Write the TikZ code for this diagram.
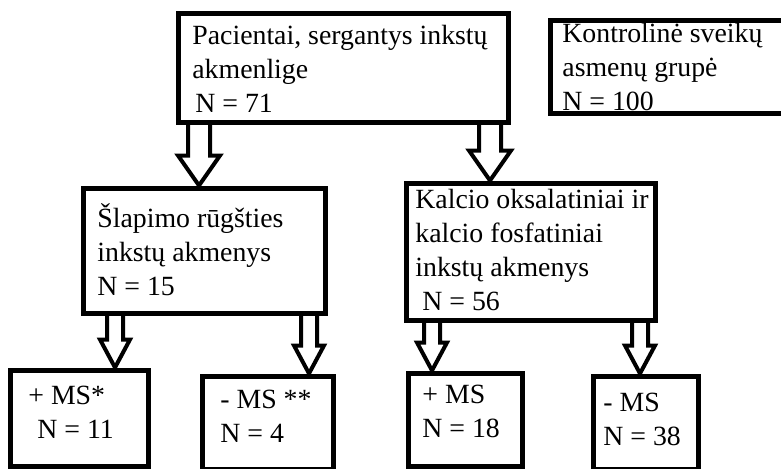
\documentclass[tikz,border=0pt]{standalone}
\usepackage{fontspec}
\setmainfont{Liberation Serif}
\usetikzlibrary{calc}
\tikzset{
  box/.style={draw,line width=2.5pt,inner sep=0pt},
  txt/.style={anchor=base west,align=left,inner sep=0pt,font=\fontsize{13.9}{17}\selectfont},
  harr/.style={draw,line width=2pt,line join=miter},
}
% hollow block arrow: half shaft, half head, head length, from, to
\newcommand{\hollowarr}[5]{%
  \draw[harr] let \p1=#4, \p2=#5 in
    (\x1-#1,\y1) -- (\x1-#1,\y2+#3) -- (\x1-#2,\y2+#3) -- (\x1,\y2)
    -- (\x1+#2,\y2+#3) -- (\x1+#1,\y2+#3) -- (\x1+#1,\y1);}

\begin{document}
\begin{tikzpicture}[x=0.5pt,y=-0.5pt]
\useasboundingbox (0,0) rectangle (781,468);
% boxes
\node[box,minimum width=165pt,minimum height=54.5pt] (pac) at (343,67.5) {};
\node[box,minimum width=123pt,minimum height=46.5pt] (ctrl) at (673,66.5) {};
\node[box,minimum width=121pt,minimum height=62.5pt] (ura) at (204,250.5) {};
\node[box,minimum width=124.5pt,minimum height=68.5pt] (caox) at (530.5,251.5) {};
\node[box,minimum width=69pt,minimum height=48pt] (uraP) at (79,418) {};
\node[box,minimum width=65.5pt,minimum height=46.5pt] (uraM) at (267.5,422.5) {};
\node[box,minimum width=57pt,minimum height=46.5pt] (caoxP) at (465,419.5) {};
\node[box,minimum width=52.5pt,minimum height=46.5pt] (caoxM) at (645.5,422.5) {};
% texts (placed at the baseline of the last line)
\node[txt] (pac-t) at (192,112) {Pacientai, sergantys inkstų\\akmenlige\\\hspace*{1.5pt}N = 71};
\node[txt] (ctrl-t) at (562,110) {Kontrolinė sveikų\\asmenų grupė\\N = 100};
\node[txt] (ura-t) at (97,295) {Šlapimo rūgšties\\inkstų akmenys\\N = 15};
\node[txt] (caox-t) at (415,310) {Kalcio oksalatiniai ir\\kalcio fosfatiniai\\inkstų akmenys\\\hspace*{3.5pt}N = 56};
\node[txt] (uraP-t) at (28,438) {+ MS*\\\hspace*{4.5pt}N = 11};
\node[txt] (uraM-t) at (220,442) {- MS **\\N = 4};
\node[txt] (caoxP-t) at (422,437) {+ MS\\N = 18};
\node[txt] (caoxM-t) at (603,445) {- MS\\N = 38};
% arrows
\foreach \px/\u/\v in {199/pac/ura,490/pac/caox}{
  \hollowarr{5.5pt}{10.5pt}{15pt}{(\u.south -| \px,0)}{(\v.north -| \px,0)}}
\foreach \px/\u/\v in {115/ura/uraP,309/ura/uraM,432/caox/caoxP,640/caox/caoxM}{
  \hollowarr{4pt}{7.5pt}{14pt}{(\u.south -| \px,0)}{(\v.north -| \px,0)}}
\end{tikzpicture}
\end{document}
